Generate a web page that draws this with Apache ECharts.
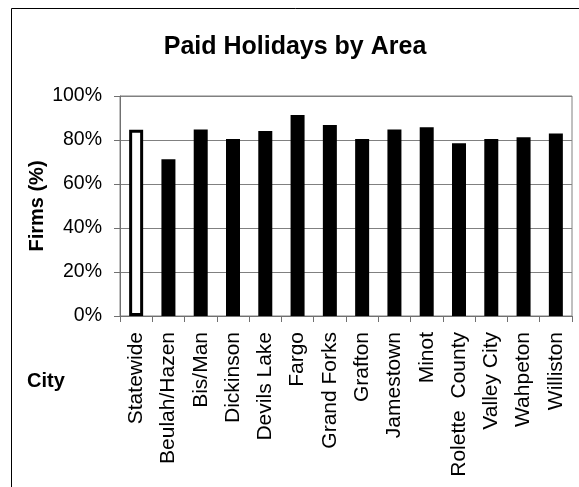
<!DOCTYPE html>
<html>
<head>
<meta charset="utf-8">
<title>Paid Holidays by Area</title>
<script src="https://cdn.jsdelivr.net/npm/echarts@6/dist/echarts.min.js"></script>
<style>
  html, body { margin: 0; padding: 0; background: #fff; }
  #chart { width: 579px; height: 487px; }
</style>
</head>
<body>
<div id="chart"></div>
<script>
var cities = ['Statewide', 'Beulah/Hazen', 'Bis/Man', 'Dickinson', 'Devils Lake', 'Fargo',
  'Grand Forks', 'Grafton', 'Jamestown', 'Minot', 'Rolette  County', 'Valley City',
  'Wahpeton', 'Williston'];
var firmsPct = [84.7, 71.2, 84.8, 80.5, 84.1, 91.4, 86.8, 80.5, 84.8, 85.8, 78.5, 80.5, 81.2, 83.0];
var yTicks = [0, 20, 40, 60, 80, 100];

var font = 'Liberation Sans, Arial, sans-serif';

var myChart = echarts.init(document.getElementById('chart'));

var option = {
  backgroundColor: '#fff',
  animation: false,
  title: {
    text: 'Paid Holidays by Area',
    left: 295,
    top: 35,
    padding: 0,
    textAlign: 'center',
    textStyle: { fontFamily: font, fontSize: 25, fontWeight: 'bold', color: '#000' }
  },
  grid: {
    left: 120,
    right: 7,
    top: 96,
    bottom: 171,
    show: true,
    backgroundColor: '#fff',
    borderColor: '#808080',
    borderWidth: 1
  },
  xAxis: {
    type: 'category',
    data: cities,
    axisLine: { lineStyle: { color: '#707070', width: 1 } },
    axisTick: { show: true, length: 6, inside: false, lineStyle: { color: '#707070' } },
    axisLabel: {
      interval: 0,
      rotate: 90,
      margin: 16,
      fontFamily: font,
      fontSize: 21,
      color: '#000'
    }
  },
  yAxis: {
    type: 'value',
    min: yTicks[0],
    max: yTicks[yTicks.length - 1],
    interval: 20,
    name: 'Firms (%)',
    nameLocation: 'middle',
    nameRotate: 90,
    nameGap: 73,
    nameMoveOverlap: false,
    nameTextStyle: { fontFamily: font, fontSize: 20, fontWeight: 'bold', color: '#000' },
    axisLine: { show: true, lineStyle: { color: '#707070', width: 1 } },
    axisTick: { show: true, length: 6, inside: false, lineStyle: { color: '#707070' } },
    splitLine: { lineStyle: { color: '#808080', width: 1 } },
    axisLabel: {
      margin: 18,
      fontFamily: font,
      fontSize: 19.5,
      color: '#000',
      formatter: '{value}%'
    }
  },
  graphic: [
    {
      type: 'rect',
      shape: { x: 11.5, y: 8.5, width: 800, height: 800 },
      style: { fill: null, stroke: '#000', lineWidth: 1 },
      z: 100,
      silent: true
    },
    {
      type: 'text',
      left: 27,
      top: 371,
      style: { text: 'City', fontFamily: font, fontSize: 20, fontWeight: 'bold', fill: '#000' }
    }
  ],
  series: [
    {
      type: 'bar',
      barWidth: 14,
      data: firmsPct.map(function (v, i) {
        if (i === 0) {
          return { value: v, itemStyle: { color: '#fff', borderColor: '#000', borderWidth: 3 } };
        }
        return { value: v, itemStyle: { color: '#000' } };
      })
    }
  ]
};

myChart.setOption(option);
</script>
</body>
</html>
